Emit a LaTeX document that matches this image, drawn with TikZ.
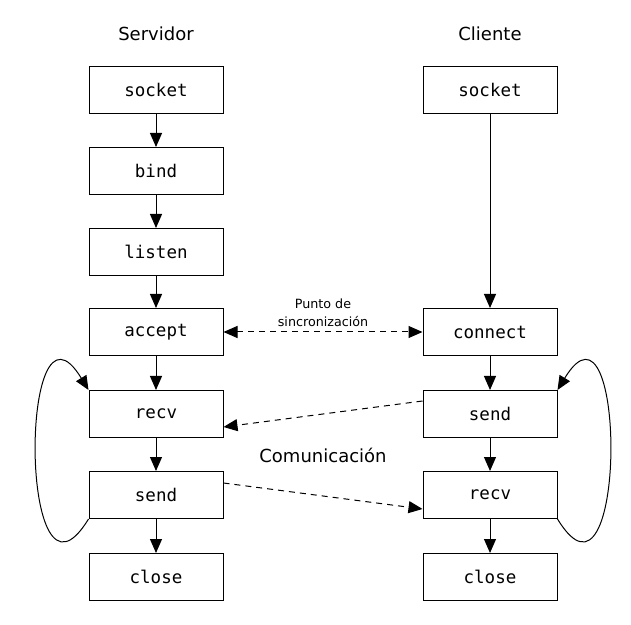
\documentclass[tikz,border=0pt]{standalone}
\usepackage{fontspec}
\setmainfont{DejaVu Sans}
\setmonofont{DejaVu Sans Mono}
\usetikzlibrary{arrows.meta}

\begin{document}
\begin{tikzpicture}[x=1pt,y=1pt,line width=1pt,
	caja/.style={draw,minimum width=134pt,minimum height=47pt,inner sep=0pt,font=\fontsize{17.5}{21}\selectfont\ttfamily},
	titulo/.style={font=\fontsize{18}{22}\selectfont},
	flecha/.style={-{Triangle[length=14pt,width=12pt]}},
	sinc/.style={dash pattern=on 6pt off 5pt}]
			\useasboundingbox (0,0) rectangle (631,624);
			\node[titulo] (tserv) at (156,590) {Servidor};
			\node[titulo] (tclie) at (490,590) {Cliente};
			\node[caja] (ssocket) at (156,534) {socket};
			\node[caja] (sbind) at (156,453) {bind};
			\node[caja] (slisten) at (156,372) {listen};
			\node[caja] (saccept) at (156,292) {accept};
			\node[caja] (srecv) at (156,210) {recv};
			\node[caja] (ssend) at (156,129) {send};
			\node[caja] (sclose) at (156,47) {close};
			\node[caja] (csocket) at (490,534) {socket};
			\node[caja] (cconnect) at (490,292) {connect};
			\node[caja] (csend) at (490,210) {send};
			\node[caja] (crecv) at (490,129) {recv};
			\node[caja] (cclose) at (490,47) {close};
			\node[align=center,font=\fontsize{12.7}{18}\selectfont] (psinc) at (323,311) {Punto de\\sincronización};
			\node[titulo] (comun) at (323,169) {Comunicación};
			\draw[flecha] (ssocket) -- (sbind);
			\draw[flecha] (sbind) -- (slisten);
			\draw[flecha] (slisten) -- (saccept);
			\draw[flecha] (saccept) -- (srecv);
			\draw[flecha] (srecv) -- (ssend);
			\draw[flecha] (ssend) -- (sclose);
			\draw[flecha] (csocket) -- (cconnect);
			\draw[flecha] (cconnect) -- (csend);
			\draw[flecha] (csend) -- (crecv);
			\draw[flecha] (crecv) -- (cclose);
			\draw[sinc,{Triangle[length=14pt,width=12pt]}-{Triangle[length=14pt,width=12pt]}] (saccept) -- (cconnect);
			\draw[sinc,flecha] ([yshift=13pt]csend.west) -- ([yshift=-13pt]srecv.east);
			\draw[sinc,flecha] ([yshift=12pt]ssend.east) -- ([yshift=-14pt]crecv.west);
			\draw[flecha] (ssend.south west) .. controls +(-70,-115) and +(-70,115) .. (srecv.north west);
			\draw[flecha] (crecv.south east) .. controls +(70,-115) and +(70,115) .. (csend.north east);
		\end{tikzpicture}
\end{document}
